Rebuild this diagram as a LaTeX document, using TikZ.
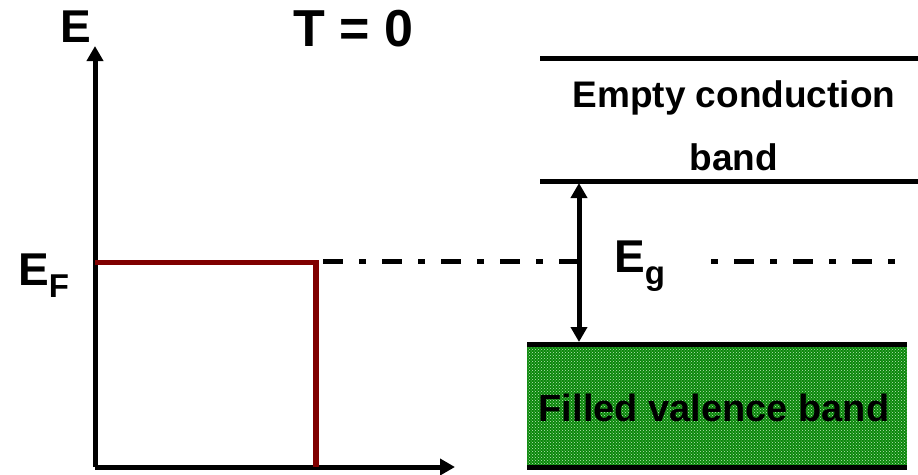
\documentclass[tikz,border=0pt]{standalone}
\usepackage{fontspec}
\setmainfont{Liberation Sans}
\usetikzlibrary{arrows.meta,patterns}
\definecolor{fermired}{RGB}{128,0,0}
\definecolor{bandgreen}{RGB}{10,135,10}
\definecolor{dotgreen}{RGB}{190,230,190}
\tikzset{
  axis/.style={line width=5pt},
  bandline/.style={line width=5pt},
  dashdot/.style={line width=5pt, dash pattern=on 20pt off 16pt on 7pt off 16pt},
  biglbl/.style={font=\bfseries\fontsize{46}{50}\selectfont, inner sep=0pt},
  bandtxt/.style={font=\bfseries\fontsize{37}{63}\selectfont, align=center, inner sep=0pt},
}
\begin{document}
\begin{tikzpicture}[x=1pt, y=-1pt, >={Triangle[length=15pt,width=16pt]}]
\useasboundingbox (0,0) rectangle (918,474);
% eixos
\coordinate (origin) at (95,467);
\coordinate (Etop) at (95,46);
\coordinate (xend) at (455,467);
\draw[axis, ->] (origin) -- (Etop);
\draw[axis, ->] (origin) -- (xend);
\node[biglbl] (lblE) at (76,27) {E};
\node[biglbl, font=\bfseries\fontsize{52}{56}\selectfont] (lblT) at (353,29) {T = 0};
\node[biglbl, anchor=base west] (lblEF) at (18,285)
  {E\raisebox{-12pt}{\fontsize{33}{33}\selectfont F}};
% Fermi (degrau)
\coordinate (EF) at (95,262.5);
\coordinate (fcorner) at (316,262.5);
\coordinate (fend) at (316,467);
\draw[line width=5.5pt, fermired] (EF) -- (fcorner) -- (fend);
% banda de conducao
\coordinate (cb1) at (540,58);
\coordinate (cb2) at (918,58);
\coordinate (cb3) at (540,181.5);
\coordinate (cb4) at (918,181.5);
\draw[bandline] (cb1) -- (cb2);
\draw[bandline] (cb3) -- (cb4);
\node[bandtxt] (condtxt) at (734,126) {Empty conduction\\band};
% banda de valencia
\fill[bandgreen, postaction={pattern=crosshatch dots, pattern color=dotgreen}]
  (527,344) rectangle (907,467);
\coordinate (vb1) at (527,344);
\coordinate (vb2) at (907,344);
\coordinate (vb3) at (527,467);
\coordinate (vb4) at (907,467);
\draw[bandline] (vb1) -- (vb2);
\draw[bandline] (vb3) -- (vb4);
\node[bandtxt, font=\bfseries\fontsize{38}{40}\selectfont] (valtxt) at (714,408) {Filled valence band};
% gap
\coordinate (gaptop) at (579,183);
\coordinate (gapbot) at (579,342);
\draw[axis, <->] (gaptop) -- (gapbot);
\node[biglbl, anchor=base west] (lblEg) at (614,272)
  {E\raisebox{-12pt}{\fontsize{33}{33}\selectfont g}};
% nivel de Fermi
\coordinate (dd1) at (323,261);
\coordinate (dd2) at (579,261);
\coordinate (dd3) at (711,261);
\coordinate (dd4) at (910,261);
\draw[dashdot] (dd1) -- (dd2);
\draw[dashdot, dash phase=36pt] (dd3) -- (dd4);
\end{tikzpicture}
\end{document}
